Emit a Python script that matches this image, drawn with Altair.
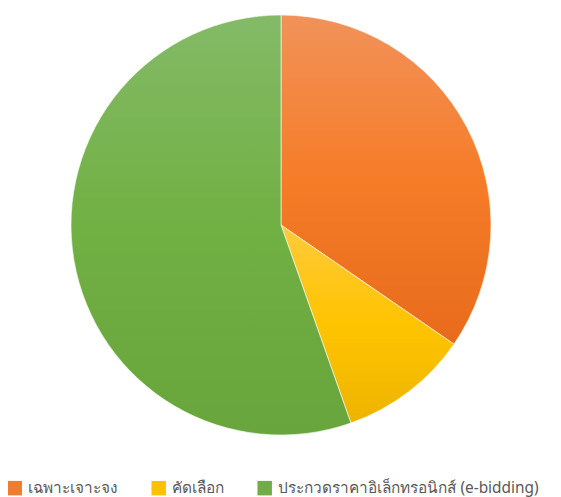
import altair as alt
import pandas as pd

categories = ["เฉพาะเจาะจง", "คัดเลือก", "ประกวดราคาอิเล็กทรอนิกส์ (e-bidding)"]
values = [34.6, 10.0, 55.4]
base_colors = ["#ED7D31", "#FFC000", "#70AD47"]
grad_top = ["#F1925A", "#FFCA3C", "#84BA67"]
grad_mid = ["#F67C28", "#FFC400", "#71B043"]
grad_bottom = ["#E76B1B", "#EDB400", "#68A53C"]

df = pd.DataFrame({"cat": categories, "value": values, "idx": list(range(len(categories)))})

W, H = 545, 489
CX, CY, R = 273, 217, 210

base = alt.Chart(df).transform_joinaggregate(
    total="sum(value)"
).transform_window(
    cum="sum(value)", sort=[alt.SortField("idx")]
).transform_calculate(
    start="(datum.cum - datum.value) / datum.total * 2 * PI",
    end="datum.cum / datum.total * 2 * PI",
)

solid = base.mark_arc(outerRadius=R, stroke="white", strokeWidth=1).encode(
    theta=alt.Theta("start:Q", scale=None),
    theta2="end:Q",
    x=alt.value(CX),
    y=alt.value(CY),
    color=alt.Color(
        "cat:N",
        scale=alt.Scale(domain=categories, range=base_colors),
        sort=categories,
        legend=alt.Legend(
            title=None,
            orient="none",
            legendX=-1,
            legendY=472,
            direction="horizontal",
            symbolType="square",
            symbolSize=210,
            symbolStrokeWidth=0,
            labelFontSize=15.4,
            labelColor="#595959",
            labelFont="Noto Sans",
            labelLimit=400,
            labelOffset=6,
            columnPadding=32,
        ),
    ),
)

layers = [solid]
for i, c in enumerate(categories):
    grad = alt.LinearGradient(
        gradient="linear",
        x1=0, y1=0, x2=0, y2=1,
        stops=[
            alt.GradientStop(color=grad_top[i], offset=0),
            alt.GradientStop(color=grad_mid[i], offset=0.5),
            alt.GradientStop(color=grad_bottom[i], offset=1),
        ],
    )
    layers.append(
        base.transform_filter(alt.datum.cat == c)
        .mark_arc(outerRadius=R, fill=grad, stroke="white", strokeWidth=1, strokeOpacity=0.6)
        .encode(
            theta=alt.Theta("start:Q", scale=None),
            theta2="end:Q",
            x=alt.value(CX),
            y=alt.value(CY),
        )
    )

chart = alt.layer(*layers).properties(
    width=W, height=H, padding=0, autosize=alt.AutoSizeParams(type="none")
).configure_view(stroke=None)

chart.save("out.html", embed_options={"renderer": "svg", "actions": False})
